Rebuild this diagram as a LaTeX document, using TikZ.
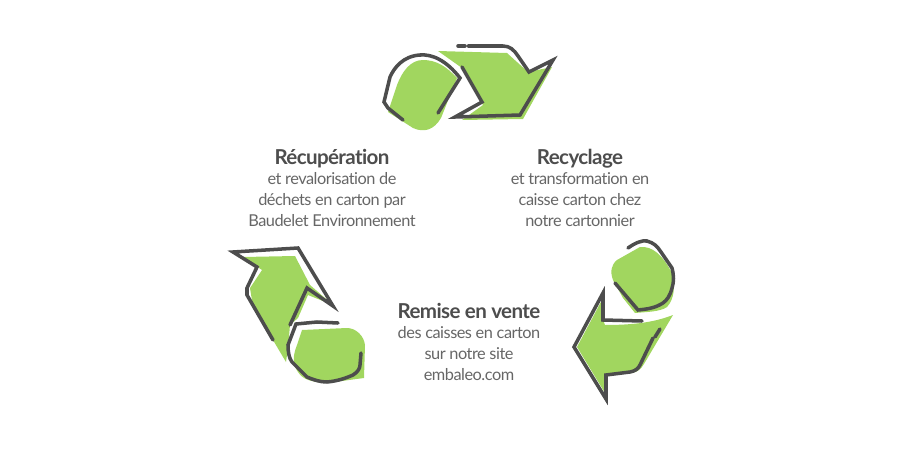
\documentclass[tikz,border=0pt]{standalone}
\usepackage{fontspec}
\setmainfont[Ligatures=CommonOff]{Lato}
\newfontfamily\tightfont[Ligatures=CommonOff,LetterSpace=-3]{Lato}
\usetikzlibrary{positioning}
\definecolor{leaf}{HTML}{A1D65F}
\definecolor{ink}{HTML}{4D4D4D}
\definecolor{copy}{HTML}{666666}
\tikzstyle{heading} = [inner sep=0pt, text=ink, font=\tightfont\fontsize{11.7}{13}\selectfont\bfseries, align=center, text height=8.5pt, text depth=3pt]
\tikzstyle{body} = [inner sep=0pt, text=copy, font=\tightfont\fontsize{9.3}{11.9}\selectfont, align=center]
\tikzstyle{green} = [fill=leaf, draw=none]
\tikzstyle{sketch} = [draw=ink, line width=2pt, line join=miter, line cap=round]

\begin{document}
\begin{tikzpicture}[x=0.02cm,y=-0.02cm]
  \useasboundingbox (0,0) rectangle (900,450);
  % top pair
  \path[green] (457,78) .. controls (446,66) and (436,60) .. (423,60) .. controls (410,60) and (402,72) .. (397,85) -- (388,112) -- (413,128) .. controls (424,133) and (434,130) .. (441,118) -- cycle;
  \path[green] (438,51) -- (507,53) -- (528,72) -- (552,67) -- (523,119) -- (462,120) -- (483,105) -- (462,68) -- cycle;
  \draw[sketch] (438,113) -- (460,78) .. controls (446,60) and (432,54) .. (420,55) .. controls (403,56) and (394,68) .. (390,77) -- (384,102) -- (388,108) -- (403,120);
  \draw[sketch] (458,46) -- (465,46);
  \draw[sketch] (468,46) -- (503,46) .. controls (510,46) and (514,50) .. (518,56) -- (529,72) -- (553,60) -- (520,115) -- (455,117) -- (482,102) -- (462,67);
  % right pair
  \path[green] (617,260) -- (640,247) .. controls (652,246) and (662,254) .. (672,273) .. controls (675,286) and (675,298) .. (667,307) .. controls (660,312) and (645,312) .. (635,313) -- (623,298) -- (613,280) .. controls (610,272) and (611,265) .. (617,260) -- cycle;
  \path[green] (673,315) .. controls (655,322) and (635,325) .. (605,325) -- (602,317) -- (603,298) -- (577,347) -- (605,393) -- (607,375) -- (632,373) .. controls (638,372) and (641,369) .. (644,364) -- cycle;
  \draw[sketch] (628,248) .. controls (635,243) and (642,240) .. (647,241) .. controls (654,243) and (657,246) .. (661,252) -- (672,268) .. controls (674,276) and (674,282) .. (672,288) .. controls (670,296) and (667,300) .. (663,303) .. controls (655,308) and (648,309) .. (638,310) -- (615,283);
  \draw[sketch] (642,321) -- (603,320) -- (603,293) -- (574,347) -- (606,399) -- (606,375) -- (630,372) .. controls (635,371) and (638,369) .. (640,365) -- (653,338);
  \draw[sketch] (655,337) -- (660,329);
  % left pair
  \path[green] (243,257) -- (295,256) -- (310,285) -- (333,305) -- (308,295) -- (298,318) -- (290,325) -- (288,348) -- (286,362) -- (270,335) -- (253,307) -- (250,288) -- (262,270) -- cycle;
  \path[green] (302,330) -- (347,328) .. controls (356,328) and (364,336) .. (365,345) -- (364,378) -- (327,383) .. controls (312,382) and (303,380) .. (298,372) .. controls (292,364) and (293,355) .. (297,345) -- cycle;
  \draw[sketch] (290,325) -- (307,288) -- (333,306) -- (298,248) -- (233,252) -- (257,267) -- (247,288) -- (247,295) -- (273,340);
  \draw[sketch] (338,323) -- (317,322) -- (296,324) -- (288,345) .. controls (288,352) and (289,358) .. (292,362) -- (307,377) .. controls (314,380) and (320,382) .. (327,382) .. controls (338,381) and (346,378) .. (353,375) .. controls (358,372) and (360,368) .. (360,365) -- (361,353);
  % labels
  \node (recuperation) [heading] at (332,160) {Récupération};
  \node (recuperationtext) [body, below=1pt of recuperation] {et revalorisation de\\déchets en carton par\\Baudelet Environnement};
  \node (recyclage) [heading] at (580,160) {Recyclage};
  \node (recyclagetext) [body, below=1pt of recyclage] {et transformation en\\caisse carton chez\\notre cartonnier};
  \node (vente) [heading] at (469,314) {Remise en vente};
  \node (ventetext) [body, below=1pt of vente] {des caisses en carton\\sur notre site\\embaleo.com};
\end{tikzpicture}
\end{document}
